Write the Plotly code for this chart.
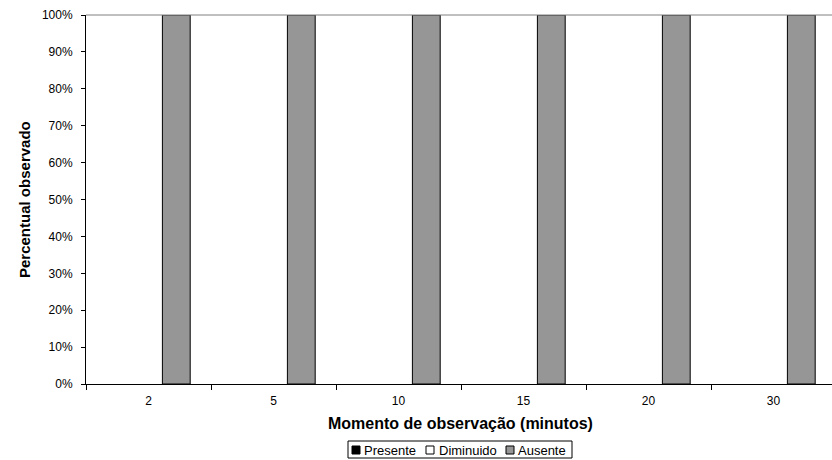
import plotly.graph_objects as go

categories = ["2", "5", "10", "15", "20", "30"]
series_names = ["Presente", "Diminuido", "Ausente"]
presente = [0, 0, 0, 0, 0, 0]
diminuido = [0, 0, 0, 0, 0, 0]
ausente = [100, 100, 100, 100, 100, 100]
y_ticks = list(range(0, 101, 10))
y_ticktext = [f"{v}%" for v in y_ticks]

colors = ["#000000", "#FFFFFF", "#969696"]
values = [presente, diminuido, ausente]

W, H = 832, 460
ML, MR, MT, MB = 86, 0, 15, 76
PW, PH = W - ML - MR, H - MT - MB


def px2x(px):
    return (px - ML) / PW


def py2y(py):
    return (H - MB - py) / PH


FONT = "Liberation Sans, Arial, sans-serif"

fig = go.Figure()
for name, col, vals in zip(series_names, colors, values):
    lw = 1 if any(v > 0 for v in vals) else 0
    fig.add_trace(go.Bar(x=categories, y=vals, name=name,
                         marker=dict(color=col, line=dict(color="#000000", width=lw))))

tick_font = dict(family=FONT, size=12, color="#000000")

shapes = [dict(type="line", xref="paper", yref="paper", x0=0, x1=1, y0=1, y1=1,
               line=dict(color="#808080", width=1))]
annotations = [
    dict(text="<b>Momento de observação (minutos)</b>", xref="paper", yref="paper",
         x=px2x(460), y=py2y(423), xanchor="center", yanchor="middle", showarrow=False,
         font=dict(family=FONT, size=16, color="#000000")),
    dict(text="<b>Percentual observado</b>", xref="paper", yref="paper",
         x=px2x(25), y=py2y(200), xanchor="center", yanchor="middle", showarrow=False,
         textangle=-90, font=dict(family=FONT, size=15, color="#000000")),
]

# custom legend (Excel style)
shapes.append(dict(type="rect", xref="paper", yref="paper",
                   x0=px2x(348), x1=px2x(572), y0=py2y(441), y1=py2y(458),
                   line=dict(color="#000000", width=1), fillcolor="white"))
sq_left = [352, 426, 506]
txt_left = [362, 436.5, 516]
for name, col, sx, tx in zip(series_names, colors, sq_left, txt_left):
    shapes.append(dict(type="rect", xref="paper", yref="paper",
                       x0=px2x(sx), x1=px2x(sx + 8), y0=py2y(446), y1=py2y(454),
                       line=dict(color="#000000", width=1), fillcolor=col))
    annotations.append(dict(text=name, xref="paper", yref="paper",
                            x=px2x(tx), y=py2y(450), xanchor="left", yanchor="middle",
                            showarrow=False,
                            font=dict(family=FONT, size=13, color="#000000")))

fig.update_layout(
    width=W, height=H,
    margin=dict(l=ML, r=MR, t=MT, b=MB),
    paper_bgcolor="white", plot_bgcolor="white",
    barmode="group", bargap=0.333, bargroupgap=0,
    font=tick_font,
    showlegend=False,
    xaxis=dict(type="category", range=[-0.5, 5.468], showgrid=False,
               showline=True, linecolor="#000000", linewidth=1,
               ticks="outside", tickson="boundaries", ticklen=5, tickcolor="#000000",
               tickfont=tick_font, ticklabelstandoff=6),
    yaxis=dict(range=[0, 100], tickmode="array", tickvals=y_ticks, ticktext=y_ticktext,
               showgrid=False, showline=True, linecolor="#000000", linewidth=1,
               ticks="outside", ticklen=4, tickcolor="#000000",
               tickfont=tick_font, zeroline=False, ticklabelstandoff=6),
    shapes=shapes,
    annotations=annotations,
)

fig.write_html("out.html")
